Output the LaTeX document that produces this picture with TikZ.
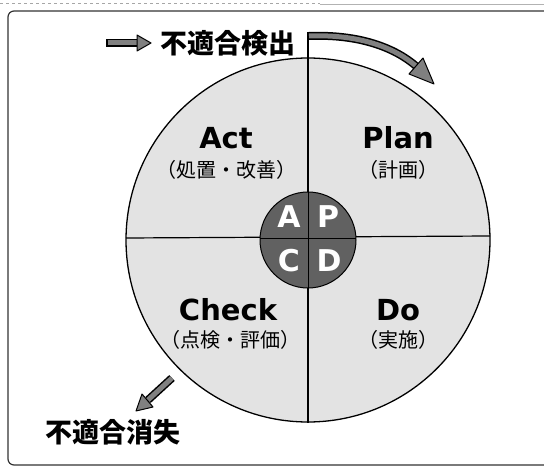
\documentclass[tikz,border=0pt]{standalone}
\usepackage{fontspec}
\newfontfamily\lat{DejaVu Sans}
\newfontfamily\cjk{Noto Sans CJK JP}
\begin{document}
\begin{tikzpicture}[x=1pt,y=-1pt,
  big/.style={font=\lat\bfseries\fontsize{29}{30}\selectfont, inner sep=0pt},
  sub/.style={font=\cjk\fontsize{20}{22}\selectfont, inner sep=0pt},
  letter/.style={font=\lat\bfseries\fontsize{30}{31}\selectfont, text=white, inner sep=0pt},
  jtitle/.style={font=\cjk\bfseries\fontsize{27}{29}\selectfont, inner sep=0pt},
  abody/.style={line width=8pt, black},
  afill/.style={line width=5pt, black!50},
  ahead/.style={fill=black!50, draw=black, line width=1pt, line join=round}]
\useasboundingbox (0,0) rectangle (544,468);
% top dashed line and frame
\draw[gray!70, line width=0.8pt, dashed] (0,3) -- (320,3);
\draw[gray!60, line width=0.8pt] (320,4) -- (544,4);
\draw[black!80, line width=1.2pt, rounded corners=6pt] (544,11) -- (8,11) -- (8,465) -- (544,465);
% big circle
\coordinate (c) at (308,240);
\fill[gray!22] (c) circle[radius=182];
\draw[line width=1.3pt] (c) circle[radius=182];
\coordinate (vt) at (308,32);
\coordinate (vb) at (308,423);
\coordinate (hl) at (126,238);
\coordinate (hr) at (490,236);
\draw[line width=1.2pt] (vt) -- (vb);
\draw[line width=1.2pt] (hl) -- (hr);
% inner circle
\fill[black!62] (c) circle[radius=48];
\draw[line width=1pt] (c) circle[radius=48];
\draw[line width=1pt] (308,192) -- (308,288);
\draw[line width=1pt] (260,238) -- (356,238);
\node[letter] (la) at (289,217) {A};
\node[letter] (lp) at (328,217) {P};
\node[letter] (lc) at (289,261) {C};
\node[letter] (ld) at (329,261) {D};
% quadrant labels
\node[big] (act) at (226,138) {Act};
\node[sub] (actj) at (226,170) {（処置・改善）};
\node[big] (plan) at (398,138) {Plan};
\node[sub] (planj) at (398,170) {（計画）};
\node[big] (check) at (228,310) {Check};
\node[sub] (checkj) at (230,340) {（点検・評価）};
\node[big] (do) at (398,310) {Do};
\node[sub] (doj) at (398,340) {（実施）};
% top title and arrows
\node[jtitle, anchor=west] (t1) at (160,43) {不適合検出};
\coordinate (a1s) at (106,43);
\coordinate (a1e) at (137,43);
\draw[abody] (a1s) -- (a1e);
\draw[afill] ([xshift=1.5pt]a1s) -- (a1e);
\filldraw[ahead] (137,35) -- (151,43) -- (137,51) -- cycle;
\coordinate (a2s) at (309,36);
\coordinate (a2e) at (416,66);
\draw[abody] (a2s) .. controls (360,34) and (395,48) .. (a2e);
\draw[afill] (a2s) .. controls (360,34) and (395,48) .. (a2e);
\filldraw[ahead] (409,74) -- (434,84) -- (423,58) -- cycle;
% bottom
\coordinate (a3s) at (172,378);
\coordinate (a3e) at (148,400);
\draw[abody] (a3s) -- (a3e);
\draw[afill] (a3s) -- (a3e);
\filldraw[ahead] (153,407) -- (136,411) -- (142,394) -- cycle;
\node[jtitle, anchor=west] (t2) at (45,432) {不適合消失};
\end{tikzpicture}
\end{document}
